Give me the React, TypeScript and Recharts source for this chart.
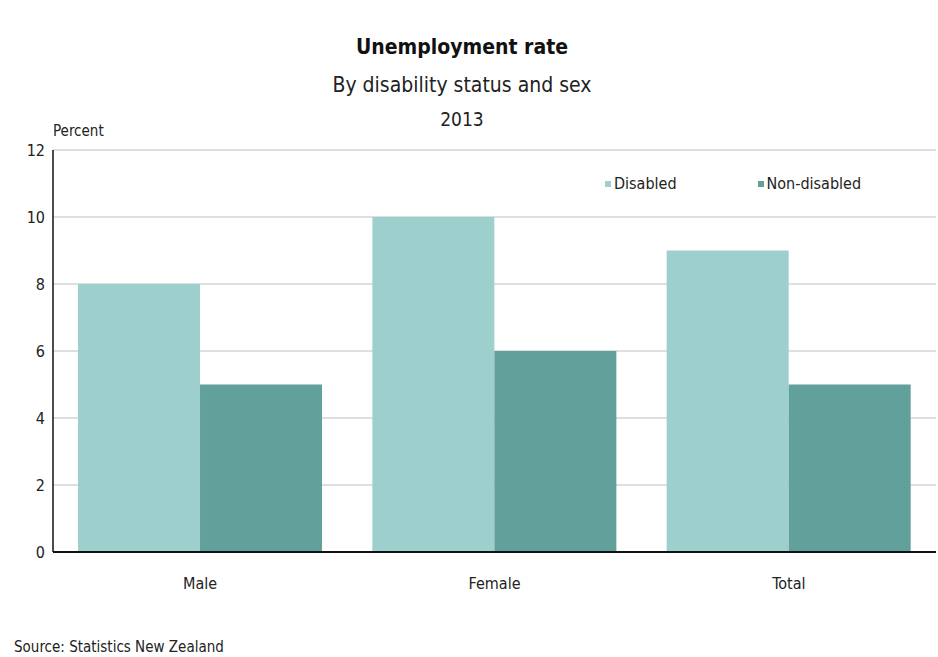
import { BarChart, Bar, XAxis, YAxis, CartesianGrid, Legend } from 'recharts'

const CATEGORIES = ['Male', 'Female', 'Total']
const DISABLED = [8, 10, 9]
const NON_DISABLED = [5, 6, 5]
const Y_TICKS = [0, 2, 4, 6, 8, 10, 12]

const DATA = CATEGORIES.map((name, i) => ({
  name,
  disabled: DISABLED[i],
  nonDisabled: NON_DISABLED[i],
}))

const FONT = '"DejaVu Sans Condensed", "Liberation Sans Narrow", "Arial Narrow", sans-serif'

function LegendBox({ payload }: any) {
  return (
    <div style={{ display: 'flex', gap: 81, fontFamily: FONT, fontSize: 16, color: '#222' }}>
      {(payload || []).map((p: any) => (
        <span key={p.value} style={{ display: 'flex', alignItems: 'center', gap: 3 }}>
          <span style={{ width: 6, height: 6, background: p.color, display: 'inline-block' }} />
          {p.value}
        </span>
      ))}
    </div>
  )
}

export default function App() {
  return (
    <div style={{ position: 'absolute', left: 0, top: 0, width: 938, height: 657, background: '#fff', fontFamily: FONT }}>
      <div style={{ position: 'absolute', top: 35, width: 924, textAlign: 'center', fontSize: 21, fontWeight: 'bold', color: '#111' }}>
        Unemployment rate
      </div>
      <div style={{ position: 'absolute', top: 73, width: 924, textAlign: 'center', fontSize: 21, color: '#222' }}>
        By disability status and sex
      </div>
      <div style={{ position: 'absolute', top: 108, width: 924, textAlign: 'center', fontSize: 19, color: '#222' }}>
        2013
      </div>
      <div style={{ position: 'absolute', top: 122, left: 53, fontSize: 15, color: '#222' }}>Percent</div>
      <div style={{ position: 'absolute', top: 638, left: 14, fontSize: 15, color: '#222' }}>Source: Statistics New Zealand</div>
      <BarChart
        width={938}
        height={657}
        data={DATA}
        margin={{ top: 150, right: 2, bottom: 75, left: 23 }}
        barCategoryGap="8.5%"
        barGap={0}
      >
        <CartesianGrid vertical={false} stroke="#d4d4d4" strokeWidth={1.5} />
        <XAxis
          dataKey="name"
          height={30}
          tickLine={false}
          axisLine={{ stroke: '#111', strokeWidth: 2 }}
          tick={{ fill: '#222', fontSize: 16, fontFamily: FONT }}
          tickMargin={20}
        />
        <YAxis
          width={30}
          domain={[0, 12]}
          ticks={Y_TICKS}
          tickLine={false}
          axisLine={{ stroke: '#111', strokeWidth: 1.5 }}
          tick={{ fill: '#222', fontSize: 16, fontFamily: FONT }}
          tickMargin={2}
        />
        <Legend
          verticalAlign="middle"
          align="center"
          content={<LegendBox />}
          wrapperStyle={{ top: 174, left: 605, width: 320 }}
        />
        <Bar dataKey="disabled" name="Disabled" fill="#9dd0cd" isAnimationActive={false} />
        <Bar dataKey="nonDisabled" name="Non-disabled" fill="#62a09c" isAnimationActive={false} />
      </BarChart>
    </div>
  )
}
